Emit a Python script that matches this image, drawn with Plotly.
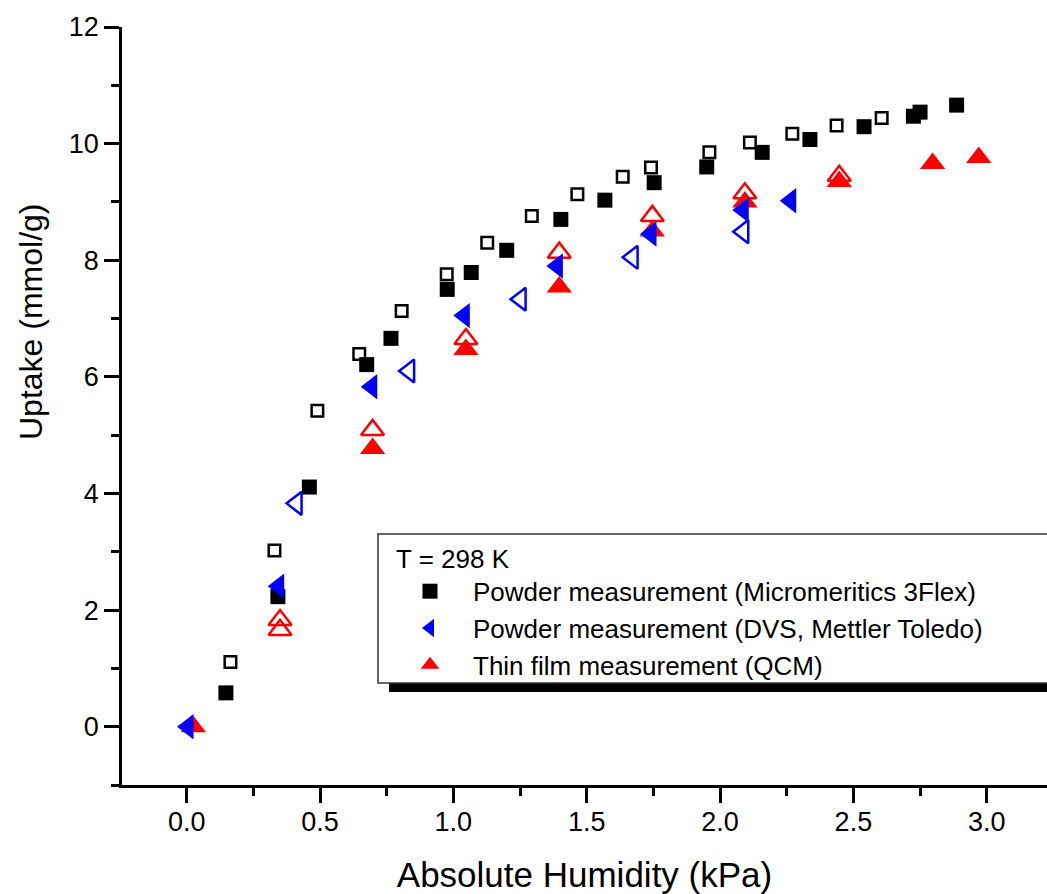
import plotly.graph_objects as go

# Water uptake isotherms at 298 K
# Powder, Micromeritics 3Flex (filled = adsorption, open = second set)
flex_x = [0.147, 0.342, 0.460, 0.675, 0.766, 0.977, 1.067, 1.200, 1.403, 1.568,
          1.753, 1.950, 2.158, 2.337, 2.540, 2.725, 2.750, 2.887]
flex_y = [0.58, 2.23, 4.11, 6.21, 6.66, 7.50, 7.79, 8.17, 8.70, 9.03,
          9.33, 9.60, 9.85, 10.07, 10.29, 10.47, 10.54, 10.66]
flex_open_x = [0.164, 0.329, 0.490, 0.647, 0.806, 0.975, 1.127, 1.294, 1.465, 1.635,
               1.741, 1.960, 2.112, 2.271, 2.437, 2.606]
flex_open_y = [1.11, 3.02, 5.42, 6.39, 7.13, 7.76, 8.30, 8.76, 9.13, 9.43,
               9.59, 9.85, 10.02, 10.17, 10.31, 10.44]

# Powder, DVS (Mettler Toledo)
dvs_x = [0.005, 0.345, 0.694, 1.041, 1.390, 1.741, 2.087, 2.265]
dvs_y = [0.00, 2.41, 5.83, 7.05, 7.90, 8.45, 8.86, 9.02]
dvs_open_x = [0.412, 0.834, 1.252, 1.672, 2.087]
dvs_open_y = [3.83, 6.10, 7.33, 8.05, 8.49]

# Thin film, QCM
qcm_x = [0.025, 0.697, 1.047, 1.397, 1.746, 2.093, 2.447, 2.797, 2.970]
qcm_y = [0.00, 4.77, 6.47, 7.54, 8.50, 9.00, 9.35, 9.66, 9.76]
qcm_open_x = [0.350, 0.350, 0.697, 1.047, 1.397, 1.746, 2.093, 2.447]
qcm_open_y = [1.83, 1.66, 5.09, 6.65, 8.13, 8.76, 9.15, 9.45]

series_names = [
    "Powder measurement (Micromeritics 3Flex)",
    "Powder measurement (DVS, Mettler Toledo)",
    "Thin film measurement (QCM)",
]
legend_title = "T = 298 K"
x_title = "Absolute Humidity (kPa)"
y_title = "Uptake (mmol/g)"

BLACK = "#000000"
BLUE = "#0000FF"
RED = "#FF0000"
FONT = "Arial, Liberation Sans, sans-serif"

W, H = 1047, 894
M_L, M_R, M_T, M_B = 122, 0, 27, 109
PW, PH = W - M_L - M_R, H - M_T - M_B


def px_to_paper_x(px):
    return (px - M_L) / PW


def px_to_paper_y(py):
    return (H - M_B - py) / PH


fig = go.Figure()


def add(x, y, symbol, color, size, name, show, rank, open_=False):
    marker = dict(symbol=symbol, color=color, size=size)
    if open_:
        marker["line"] = dict(color=color, width=2.5)
    else:
        marker["line"] = dict(width=0)
    fig.add_trace(go.Scatter(
        x=x, y=y, mode="markers", marker=marker, name=name,
        showlegend=show, legendrank=rank, hoverinfo="x+y",
    ))


add(flex_open_x, flex_open_y, "square-open", BLACK, 11.5, series_names[0], False, 10, True)
add(flex_x, flex_y, "square", BLACK, 15, series_names[0], True, 1)
add(qcm_open_x, qcm_open_y, "triangle-up-open", RED, 20, series_names[2], False, 11, True)
add(qcm_x, qcm_y, "triangle-up", RED, 22, series_names[2], True, 3)
add(dvs_open_x, dvs_open_y, "triangle-left-open", BLUE, 20, series_names[1], False, 12, True)
add(dvs_x, dvs_y, "triangle-left", BLUE, 22, series_names[1], True, 2)

# legend frame with drop shadow
box_l, box_t, box_r, box_b = 378, 534, 1070, 683
shadow_dx, shadow_dy = 11, 9
shapes = [
    dict(type="rect", xref="paper", yref="paper",
         x0=px_to_paper_x(box_l + shadow_dx), x1=px_to_paper_x(box_r + shadow_dx),
         y0=px_to_paper_y(box_b + shadow_dy), y1=px_to_paper_y(box_t + shadow_dy),
         fillcolor="#000000", line=dict(width=0), layer="above"),
    dict(type="rect", xref="paper", yref="paper",
         x0=px_to_paper_x(box_l), x1=px_to_paper_x(box_r),
         y0=px_to_paper_y(box_b), y1=px_to_paper_y(box_t),
         fillcolor="#FFFFFF", line=dict(color="#333333", width=1.5), layer="above"),
]

axis_common = dict(
    showgrid=False, zeroline=False, showline=True, linecolor=BLACK, linewidth=2.7,
    ticks="outside", ticklen=15, tickwidth=2.7, tickcolor=BLACK,
    tickfont=dict(family=FONT, size=27, color=BLACK), mirror=False,
)

fig.update_layout(
    width=W, height=H,
    margin=dict(l=M_L, r=M_R, t=M_T, b=M_B, pad=0),
    paper_bgcolor="white", plot_bgcolor="white",
    font=dict(family=FONT, color=BLACK),
    xaxis=dict(
        range=[-0.2426, 3.226], tick0=0, dtick=0.5, tickformat=".1f",
        ticklabelstandoff=-4,
        minor=dict(dtick=0.25, tick0=0, ticks="outside", ticklen=8, tickwidth=2.7,
                   tickcolor=BLACK, showgrid=False),
        title=dict(text=x_title, font=dict(family=FONT, size=35), standoff=27),
        **axis_common,
    ),
    yaxis=dict(
        range=[-1, 12], tick0=0, dtick=2,
        minor=dict(dtick=1, tick0=0, ticks="outside", ticklen=8, tickwidth=2.7,
                   tickcolor=BLACK, showgrid=False),
        **axis_common,
    ),
    annotations=[
        dict(text=y_title, textangle=-90, xref="paper", yref="paper",
             x=px_to_paper_x(31), y=px_to_paper_y(322),
             xanchor="center", yanchor="middle", showarrow=False,
             font=dict(family=FONT, size=32, color=BLACK)),
    ],
    legend=dict(
        x=px_to_paper_x(394), y=px_to_paper_y(box_t), xanchor="left", yanchor="top",
        bgcolor="rgba(0,0,0,0)", borderwidth=0,
        font=dict(family=FONT, size=26, color=BLACK),
        title=dict(text=legend_title, font=dict(family=FONT, size=26, color=BLACK)),
        itemwidth=76, indentation=-7, traceorder="normal",
    ),
    shapes=shapes,
    showlegend=True,
)

fig.write_html("out.html")
